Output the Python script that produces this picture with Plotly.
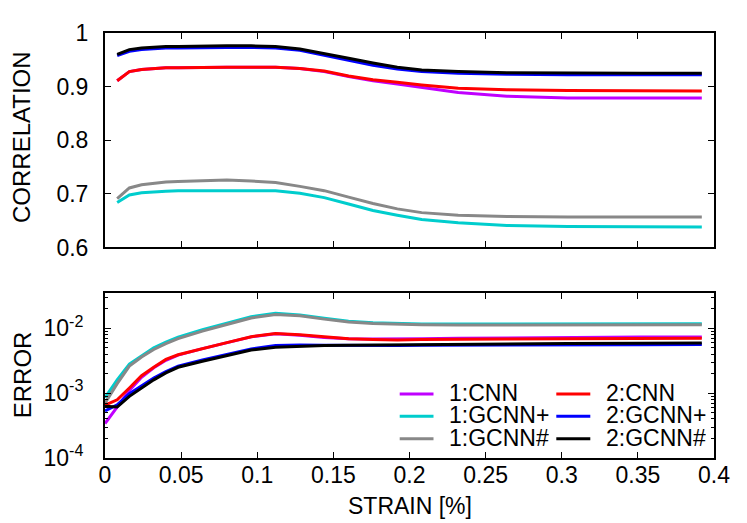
import plotly.graph_objects as go

# ---------------- data ----------------
strain = [0, 0.008, 0.016, 0.024, 0.032, 0.04, 0.048, 0.064, 0.08, 0.096, 0.112,
          0.128, 0.144, 0.16, 0.176, 0.192, 0.208, 0.232, 0.264, 0.304, 0.352, 0.392]
strain_corr = strain[1:]

series_names = ["1:CNN", "1:GCNN+", "1:GCNN#", "2:CNN", "2:GCNN+", "2:GCNN#"]

corr_1_cnn = [0.911, 0.928, 0.932, 0.934, 0.935, 0.935, 0.936, 0.936, 0.936, 0.936, 0.934,
              0.928, 0.919, 0.911, 0.905, 0.899, 0.889, 0.882, 0.879, 0.879, 0.879]
corr_1_gcnnp = [0.684, 0.698, 0.702, 0.704, 0.705, 0.706, 0.706, 0.706, 0.706, 0.706, 0.701,
                0.693, 0.681, 0.669, 0.660, 0.652, 0.646, 0.641, 0.639, 0.638, 0.638]
corr_1_gcnnh = [0.691, 0.711, 0.717, 0.720, 0.722, 0.723, 0.725, 0.726, 0.724, 0.721, 0.714,
                0.706, 0.694, 0.682, 0.672, 0.665, 0.660, 0.658, 0.657, 0.657, 0.657]
corr_2_cnn = [0.911, 0.928, 0.932, 0.934, 0.935, 0.935, 0.936, 0.936, 0.936, 0.936, 0.934,
              0.929, 0.920, 0.913, 0.908, 0.903, 0.897, 0.894, 0.893, 0.892, 0.892]
corr_2_gcnnp = [0.958, 0.966, 0.969, 0.971, 0.972, 0.972, 0.973, 0.973, 0.973, 0.972, 0.968,
                0.959, 0.949, 0.940, 0.933, 0.928, 0.925, 0.923, 0.922, 0.922, 0.922]
corr_2_gcnnh = [0.960, 0.969, 0.972, 0.974, 0.975, 0.975, 0.976, 0.976, 0.976, 0.975, 0.970,
                0.962, 0.953, 0.944, 0.936, 0.931, 0.928, 0.926, 0.925, 0.925, 0.925]

err_1_cnn = [3.4e-4, 6.0e-4, 1.1e-3, 1.75e-3, 2.45e-3, 3.2e-3, 3.85e-3, 4.85e-3, 5.95e-3, 7.35e-3, 8.2e-3,
             7.8e-3, 7.2e-3, 6.9e-3, 6.8e-3, 6.8e-3, 6.9e-3, 7.0e-3, 7.1e-3, 7.2e-3, 7.3e-3, 7.3e-3]
err_1_gcnnp = [8.5e-4, 1.6e-3, 2.8e-3, 3.8e-3, 5.0e-3, 6.1e-3, 7.3e-3, 9.5e-3, 1.2e-2, 1.5e-2, 1.7e-2,
               1.6e-2, 1.42e-2, 1.28e-2, 1.21e-2, 1.17e-2, 1.16e-2, 1.16e-2, 1.16e-2, 1.16e-2, 1.17e-2, 1.17e-2]
err_1_gcnnh = [7.0e-4, 1.4e-3, 2.6e-3, 3.6e-3, 4.7e-3, 5.8e-3, 6.9e-3, 9.0e-3, 1.14e-2, 1.44e-2, 1.62e-2,
               1.55e-2, 1.38e-2, 1.25e-2, 1.18e-2, 1.14e-2, 1.13e-2, 1.12e-2, 1.12e-2, 1.12e-2, 1.12e-2, 1.13e-2]
err_2_cnn = [6.5e-4, 7.9e-4, 1.2e-3, 1.85e-3, 2.5e-3, 3.3e-3, 3.9e-3, 4.9e-3, 6.0e-3, 7.4e-3, 8.3e-3,
             7.9e-3, 7.3e-3, 6.9e-3, 6.7e-3, 6.6e-3, 6.7e-3, 6.8e-3, 6.8e-3, 6.9e-3, 6.9e-3, 7.0e-3]
err_2_gcnnp = [5.3e-4, 6.6e-4, 9.8e-4, 1.3e-3, 1.7e-3, 2.15e-3, 2.6e-3, 3.25e-3, 4.0e-3, 4.8e-3, 5.4e-3,
               5.5e-3, 5.45e-3, 5.4e-3, 5.4e-3, 5.4e-3, 5.45e-3, 5.45e-3, 5.5e-3, 5.5e-3, 5.55e-3, 5.6e-3]
err_2_gcnnh = [6.3e-4, 6.1e-4, 8.9e-4, 1.2e-3, 1.6e-3, 2.05e-3, 2.5e-3, 3.1e-3, 3.8e-3, 4.6e-3, 5.1e-3,
               5.3e-3, 5.4e-3, 5.45e-3, 5.5e-3, 5.55e-3, 5.6e-3, 5.65e-3, 5.7e-3, 5.8e-3, 5.85e-3, 5.9e-3]

x_ticks = [0, 0.05, 0.1, 0.15, 0.2, 0.25, 0.3, 0.35, 0.4]
x_tick_labels = ["0", "0.05", "0.1", "0.15", "0.2", "0.25", "0.3", "0.35", "0.4"]
corr_ticks = [0.6, 0.7, 0.8, 0.9, 1.0]
corr_tick_labels = ["0.6", "0.7", "0.8", "0.9", "1"]
err_ticks = [1e-4, 1e-3, 1e-2]
err_tick_labels = ["10<sup>-4</sup>", "10<sup>-3</sup>", "10<sup>-2</sup>"]
err_minor_ticks = [m * 10.0 ** e for e in (-4, -3, -2) for m in range(2, 10) if m * 10.0 ** e < 0.035]

corr_data = [corr_1_cnn, corr_1_gcnnp, corr_1_gcnnh, corr_2_cnn, corr_2_gcnnp, corr_2_gcnnh]
err_data = [err_1_cnn, err_1_gcnnp, err_1_gcnnh, err_2_cnn, err_2_gcnnp, err_2_gcnnh]
colors = ["#c000ff", "#00cdcd", "#888888", "#ff0000", "#0000ff", "#000000"]

FONT = "Liberation Sans, Arial, Helvetica, sans-serif"
FS = 23

# figure geometry (px)
W, H = 747, 523
ML, MR, MT, MB = 97, 41, 22, 73
PW, PH = W - ML - MR, H - MT - MB


def px_x(px):
    return (px - ML) / PW


def px_y(py):
    return (H - MB - py) / PH


fig = go.Figure()
for name, c, yv in zip(series_names, colors, corr_data):
    fig.add_trace(go.Scatter(x=strain_corr, y=yv, mode="lines", name=name,
                             line=dict(color=c, width=3), showlegend=False,
                             xaxis="x", yaxis="y"))
for name, c, yv in zip(series_names, colors, err_data):
    fig.add_trace(go.Scatter(x=strain, y=yv, mode="lines", name=name,
                             line=dict(color=c, width=3), showlegend=False,
                             xaxis="x2", yaxis="y2"))

axis_common = dict(showline=True, linecolor="black", linewidth=2, mirror="ticks",
                   ticks="inside", ticklen=6, tickwidth=1, tickcolor="black",
                   showgrid=False, zeroline=False,
                   tickfont=dict(family=FONT, size=FS, color="black"))

# key (legend) drawn as two columns of three entries, like the original
shapes = []
annotations = []
col_line_x = [(391.7, 425.5), (548.3, 582.3)]
col_text_x = [440, 596.7]
row_y = [385.5, 408, 430.5]
for i, (name, c) in enumerate(zip(series_names, colors)):
    col, row = divmod(i, 3)
    x0, x1 = col_line_x[col]
    yy = px_y(row_y[row])
    shapes.append(dict(type="line", xref="paper", yref="paper", x0=px_x(x0), x1=px_x(x1),
                       y0=yy, y1=yy, line=dict(color=c, width=3)))
    annotations.append(dict(text=name, xref="paper", yref="paper", x=px_x(col_text_x[col]),
                            y=px_y(row_y[row] - 1), xanchor="left", yanchor="middle",
                            showarrow=False, height=22, borderpad=0,
                            font=dict(family=FONT, size=FS, color="black")))

annotations += [
    dict(text="CORRELATION", xref="paper", yref="paper", x=px_x(14), y=px_y(126.7),
         xanchor="center", yanchor="middle", textangle=-90, showarrow=False,
         font=dict(family=FONT, size=24, color="black")),
    dict(text="ERROR", xref="paper", yref="paper", x=px_x(14), y=px_y(366.7),
         xanchor="center", yanchor="middle", textangle=-90, showarrow=False,
         font=dict(family=FONT, size=24, color="black")),
    dict(text="STRAIN [%]", xref="paper", yref="paper", x=px_x(402), y=px_y(498),
         xanchor="center", yanchor="middle", showarrow=False,
         font=dict(family=FONT, size=FS, color="black")),
]

fig.update_layout(
    width=W, height=H,
    margin=dict(l=ML, r=MR, t=MT, b=MB),
    paper_bgcolor="white", plot_bgcolor="white",
    font=dict(family=FONT, size=FS, color="black"),
    showlegend=False,
    xaxis=dict(domain=[0, 1], range=[0, 0.4], tickvals=x_ticks, ticktext=x_tick_labels,
               showticklabels=False, anchor="y", **axis_common),
    yaxis=dict(domain=[px_y(238), 1], range=[0.6, 1.0], tickvals=corr_ticks,
               ticktext=corr_tick_labels, anchor="x", ticklabelstandoff=10, **axis_common),
    xaxis2=dict(domain=[0, 1], range=[0, 0.4], tickvals=x_ticks, ticktext=x_tick_labels,
                anchor="y2", ticklabelstandoff=-5, **axis_common),
    yaxis2=dict(domain=[0, px_y(284)], type="log", range=[-4, -1.46], tickvals=err_ticks,
                ticktext=err_tick_labels, anchor="x2", ticklabelstandoff=15,
                minor=dict(ticks="inside", ticklen=3, tickwidth=1, tickcolor="black",
                           tickmode="array", tickvals=err_minor_ticks, showgrid=False),
                **axis_common),
    shapes=shapes,
    annotations=annotations,
)

fig.write_html("out.html")
